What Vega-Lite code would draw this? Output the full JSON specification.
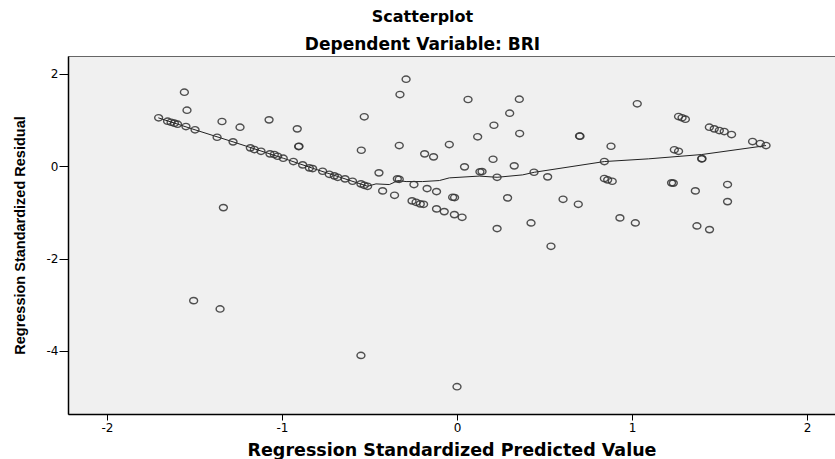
{
  "$schema": "https://vega.github.io/schema/vega-lite/v6.json",
  "width": 767,
  "height": 358,
  "autosize": {"type": "none"},
  "padding": {"left": 68, "top": 56, "right": 0, "bottom": 45},
  "background": "white",
  "title": {
    "text": "Scatterplot",
    "subtitle": "Dependent Variable: BRI",
    "anchor": "middle",
    "dx": -29,
    "offset": 3,
    "font": "DejaVu Sans",
    "fontSize": 16,
    "fontWeight": "bold",
    "color": "#000",
    "subtitleFont": "DejaVu Sans",
    "subtitleFontSize": 17,
    "subtitleFontWeight": "bold",
    "subtitleColor": "#000",
    "subtitlePadding": 12
  },
  "config": {
    "view": {"fill": "#F0F0F0", "stroke": "#666", "strokeWidth": 1},
    "axis": {
      "grid": false,
      "domainColor": "#000",
      "domainWidth": 1.5,
      "tickColor": "#000",
      "tickSize": 6,
      "labelFont": "DejaVu Sans",
      "labelFontSize": 12,
      "labelColor": "#000",
      "labelExpr": "'' + datum.value",
      "titleFont": "DejaVu Sans",
      "titleFontSize": 16,
      "titleFontWeight": "bold",
      "titleColor": "#000"
    }
  },
  "datasets": {
    "pts": [
      {"pred": -1.558, "resid": 1.605}, {"pred": -1.543, "resid": 1.215}, {"pred": -1.705, "resid": 1.05},
      {"pred": -1.654, "resid": 0.976}, {"pred": -1.634, "resid": 0.954}, {"pred": -1.615, "resid": 0.933},
      {"pred": -1.597, "resid": 0.911}, {"pred": -1.549, "resid": 0.861}, {"pred": -1.497, "resid": 0.79},
      {"pred": -1.343, "resid": 0.97}, {"pred": -1.24, "resid": 0.846}, {"pred": -1.074, "resid": 1.006},
      {"pred": -0.913, "resid": 0.811}, {"pred": -0.905, "resid": 0.427}, {"pred": -0.903, "resid": 0.432},
      {"pred": -1.371, "resid": 0.629}, {"pred": -1.28, "resid": 0.529}, {"pred": -1.181, "resid": 0.399},
      {"pred": -1.158, "resid": 0.362}, {"pred": -1.12, "resid": 0.325}, {"pred": -1.069, "resid": 0.269},
      {"pred": -1.044, "resid": 0.254}, {"pred": -1.025, "resid": 0.217}, {"pred": -0.993, "resid": 0.174},
      {"pred": -0.935, "resid": 0.102}, {"pred": -0.882, "resid": 0.03}, {"pred": -0.844, "resid": -0.035},
      {"pred": -0.825, "resid": -0.05}, {"pred": -1.335, "resid": -0.896}, {"pred": -0.291, "resid": 1.887},
      {"pred": -0.326, "resid": 1.555}, {"pred": 0.063, "resid": 1.447}, {"pred": -0.53, "resid": 1.072},
      {"pred": 0.118, "resid": 0.638}, {"pred": -0.547, "resid": 0.347}, {"pred": -0.33, "resid": 0.449},
      {"pred": -0.044, "resid": 0.471}, {"pred": -0.185, "resid": 0.269}, {"pred": -0.134, "resid": 0.204},
      {"pred": 0.043, "resid": -0.013}, {"pred": 0.131, "resid": -0.121}, {"pred": -0.446, "resid": -0.143},
      {"pred": -0.341, "resid": -0.273}, {"pred": -0.33, "resid": -0.282}, {"pred": -0.246, "resid": -0.397},
      {"pred": -0.171, "resid": -0.484}, {"pred": -0.117, "resid": -0.549}, {"pred": -0.025, "resid": -0.672},
      {"pred": -0.014, "resid": -0.679}, {"pred": -0.425, "resid": -0.534}, {"pred": -0.357, "resid": -0.629},
      {"pred": -0.257, "resid": -0.751}, {"pred": -0.234, "resid": -0.781}, {"pred": -0.21, "resid": -0.816},
      {"pred": -0.191, "resid": -0.824}, {"pred": -0.117, "resid": -0.924}, {"pred": -0.073, "resid": -0.983},
      {"pred": -0.015, "resid": -1.048}, {"pred": 0.029, "resid": -1.106}, {"pred": -0.768, "resid": -0.108},
      {"pred": -0.73, "resid": -0.174}, {"pred": -0.701, "resid": -0.208}, {"pred": -0.682, "resid": -0.239},
      {"pred": -0.64, "resid": -0.273}, {"pred": -0.597, "resid": -0.325}, {"pred": -0.549, "resid": -0.382},
      {"pred": -0.53, "resid": -0.412}, {"pred": -0.511, "resid": -0.434}, {"pred": 0.356, "resid": 1.453},
      {"pred": 0.301, "resid": 1.15}, {"pred": 0.211, "resid": 0.889}, {"pred": 0.358, "resid": 0.709},
      {"pred": 1.03, "resid": 1.354}, {"pred": 0.703, "resid": 0.651}, {"pred": 0.7, "resid": 0.655},
      {"pred": 0.88, "resid": 0.434}, {"pred": 0.206, "resid": 0.152}, {"pred": 0.327, "resid": 0.009},
      {"pred": 0.842, "resid": 0.102}, {"pred": 0.143, "resid": -0.115}, {"pred": 0.229, "resid": -0.239},
      {"pred": 0.44, "resid": -0.13}, {"pred": 0.518, "resid": -0.23}, {"pred": 0.842, "resid": -0.267},
      {"pred": 0.861, "resid": -0.295}, {"pred": 0.887, "resid": -0.325}, {"pred": 0.289, "resid": -0.685},
      {"pred": 0.606, "resid": -0.716}, {"pred": 0.693, "resid": -0.824}, {"pred": 0.229, "resid": -1.351},
      {"pred": 0.423, "resid": -1.228}, {"pred": 0.931, "resid": -1.119}, {"pred": 1.019, "resid": -1.228},
      {"pred": 0.537, "resid": -1.735}, {"pred": 1.266, "resid": 1.078}, {"pred": 1.286, "resid": 1.05},
      {"pred": 1.305, "resid": 1.02}, {"pred": 1.442, "resid": 0.846}, {"pred": 1.47, "resid": 0.811},
      {"pred": 1.499, "resid": 0.774}, {"pred": 1.527, "resid": 0.753}, {"pred": 1.569, "resid": 0.688},
      {"pred": 1.689, "resid": 0.536}, {"pred": 1.733, "resid": 0.492}, {"pred": 1.766, "resid": 0.449},
      {"pred": 1.242, "resid": 0.356}, {"pred": 1.266, "resid": 0.325}, {"pred": 1.398, "resid": 0.161},
      {"pred": 1.4, "resid": 0.165}, {"pred": 1.226, "resid": -0.36}, {"pred": 1.236, "resid": -0.365},
      {"pred": 1.362, "resid": -0.534}, {"pred": 1.546, "resid": -0.397}, {"pred": 1.546, "resid": -0.766},
      {"pred": 1.371, "resid": -1.293}, {"pred": 1.443, "resid": -1.373}, {"pred": -1.505, "resid": -2.913},
      {"pred": -1.354, "resid": -3.093}, {"pred": -0.549, "resid": -4.1}, {"pred": 0.0, "resid": -4.779}
    ],
    "fit": [
      {"pred": -1.707, "resid": 1.05}, {"pred": -1.497, "resid": 0.79}, {"pred": -1.28, "resid": 0.529},
      {"pred": -0.993, "resid": 0.174}, {"pred": -0.825, "resid": -0.043}, {"pred": -0.64, "resid": -0.273},
      {"pred": -0.511, "resid": -0.434}, {"pred": -0.463, "resid": -0.382}, {"pred": -0.387, "resid": -0.397},
      {"pred": -0.358, "resid": -0.347}, {"pred": -0.339, "resid": -0.31}, {"pred": -0.291, "resid": -0.332},
      {"pred": -0.197, "resid": -0.332}, {"pred": -0.101, "resid": -0.31}, {"pred": -0.044, "resid": -0.252},
      {"pred": 0.127, "resid": -0.213}, {"pred": 0.229, "resid": -0.239}, {"pred": 0.375, "resid": -0.187},
      {"pred": 0.442, "resid": -0.13}, {"pred": 0.842, "resid": 0.102}, {"pred": 1.095, "resid": 0.161},
      {"pred": 1.398, "resid": 0.254}, {"pred": 1.727, "resid": 0.427}, {"pred": 1.766, "resid": 0.449}
    ]
  },
  "layer": [
    {
      "data": {"name": "fit"},
      "mark": {"type": "line", "color": "#222", "strokeWidth": 1, "clip": true},
      "encoding": {
        "x": {"field": "pred", "type": "quantitative", "sort": null,
          "scale": {"domain": [-2.223, 2.16], "nice": false, "zero": false},
          "axis": {"values": [-2, -1, 0, 1, 2], "title": "Regression Standardized Predicted Value", "titleFontSize": 17.5, "titlePadding": 8, "labelPadding": 2}},
        "y": {"field": "resid", "type": "quantitative",
          "scale": {"domain": [-5.37, 2.39], "nice": false, "zero": false},
          "axis": {"values": [-4, -2, 0, 2], "title": "Regression Standardized Residual", "titleFont": "Liberation Sans", "titleFontSize": 14.5, "titlePadding": 19, "tickSize": 9, "labelPadding": 1}},
        "order": {"field": "pred", "type": "quantitative"}
      }
    },
    {
      "data": {"name": "pts"},
      "mark": {"type": "point", "shape": "M-1.25,0A1.25,1,0,1,1,1.25,0A1.25,1,0,1,1,-1.25,0Z", "filled": false, "stroke": "#333", "strokeWidth": 1.4, "size": 40, "opacity": 0.85},
      "encoding": {
        "x": {"field": "pred", "type": "quantitative"},
        "y": {"field": "resid", "type": "quantitative"}
      }
    }
  ]
}
